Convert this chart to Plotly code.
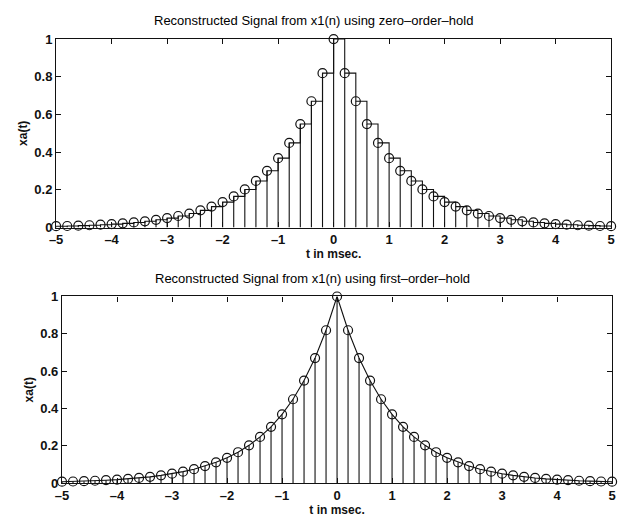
import plotly.graph_objects as go

# Sample instants (msec) and the sampled signal x1(n)
t_ms = [-5.0, -4.8, -4.6, -4.4, -4.2, -4.0, -3.8, -3.6, -3.4, -3.2,
        -3.0, -2.8, -2.6, -2.4, -2.2, -2.0, -1.8, -1.6, -1.4, -1.2,
        -1.0, -0.8, -0.6, -0.4, -0.2, 0.0, 0.2, 0.4, 0.6, 0.8,
        1.0, 1.2, 1.4, 1.6, 1.8, 2.0, 2.2, 2.4, 2.6, 2.8,
        3.0, 3.2, 3.4, 3.6, 3.8, 4.0, 4.2, 4.4, 4.6, 4.8, 5.0]
x1 = [0.007, 0.008, 0.010, 0.012, 0.015, 0.018, 0.022, 0.027, 0.033, 0.041,
      0.050, 0.061, 0.074, 0.091, 0.111, 0.135, 0.165, 0.202, 0.247, 0.301,
      0.368, 0.449, 0.549, 0.670, 0.819, 1.000, 0.819, 0.670, 0.549, 0.449,
      0.368, 0.301, 0.247, 0.202, 0.165, 0.135, 0.111, 0.091, 0.074, 0.061,
      0.050, 0.041, 0.033, 0.027, 0.022, 0.018, 0.015, 0.012, 0.010, 0.008, 0.007]

x_ticks = [-5, -4, -3, -2, -1, 0, 1, 2, 3, 4, 5]
y_ticks = [0, 0.2, 0.4, 0.6, 0.8, 1]
y_tick_text = ["0", "0.2", "0.4", "0.6", "0.8", "1"]

titles = ["Reconstructed Signal from x1(n) using zero\u2013order\u2013hold",
          "Reconstructed Signal from x1(n) using first\u2013order\u2013hold"]

W, H = 621, 525
INK = "#111111"
FONT = "Liberation Sans, Arial, sans-serif"

# stem segments: vertical line from 0 up to each sample
stem_x, stem_y = [], []
for tv, xv in zip(t_ms, x1):
    stem_x += [tv, tv, None]
    stem_y += [0, xv, None]

fig = go.Figure()

# panel placement in pixels: (left, right, top, bottom, title centre x)
panels = [(50, 615, 33, 227, 312), (56, 616, 298, 490, 311)]
shapes = ["hv", "linear"]

for i, ((l, r, tp, bt, tcx), shp) in enumerate(zip(panels, shapes)):
    xa = "x" if i == 0 else "x2"
    ya = "y" if i == 0 else "y2"
    # reconstruction curve
    fig.add_trace(go.Scatter(x=t_ms, y=x1, mode="lines", line=dict(color=INK, width=1.1, shape=shp),
                             xaxis=xa, yaxis=ya, showlegend=False, hoverinfo="skip"))
    # stems
    fig.add_trace(go.Scatter(x=stem_x, y=stem_y, mode="lines", line=dict(color=INK, width=1.1),
                             xaxis=xa, yaxis=ya, showlegend=False, hoverinfo="skip"))
    # sample markers
    fig.add_trace(go.Scatter(x=t_ms, y=x1, mode="markers",
                             marker=dict(symbol="circle-open", size=9, color=INK, line=dict(width=1.2)),
                             xaxis=xa, yaxis=ya, showlegend=False, cliponaxis=False))

    axx = dict(domain=[l / W, r / W], range=[-5, 5], tickvals=x_ticks,
               ticktext=[str(v).replace("-", "\u2013") for v in x_ticks],
               ticks="inside", ticklen=5, tickwidth=1, tickcolor=INK,
               showline=True, linecolor=INK, linewidth=1.2, mirror="ticks",
               showgrid=False, zeroline=False,
               tickfont=dict(family=FONT, size=13, color=INK, weight="bold"),
               title=dict(text="t in msec.", standoff=1,
                          font=dict(family=FONT, size=12, color=INK, weight="bold")),
               anchor=ya)
    axy = dict(domain=[1 - bt / H, 1 - tp / H], range=[0, 1], tickvals=y_ticks, ticktext=y_tick_text,
               ticks="inside", ticklen=5, tickwidth=1, tickcolor=INK,
               showline=True, linecolor=INK, linewidth=1.2, mirror="ticks",
               showgrid=False, zeroline=False,
               tickfont=dict(family=FONT, size=13, color=INK, weight="bold"),
               title=dict(text="xa(t)", standoff=4,
                          font=dict(family=FONT, size=12, color=INK, weight="bold")),
               anchor=xa)
    fig.update_layout({("xaxis" if i == 0 else "xaxis2"): axx,
                       ("yaxis" if i == 0 else "yaxis2"): axy})
    fig.add_annotation(text=titles[i], xref="paper", yref="paper",
                       x=tcx / W, y=1 - (tp - 19) / H, xanchor="center", yanchor="middle",
                       showarrow=False, font=dict(family=FONT, size=13, color="#000000"))

fig.update_layout(width=W, height=H, margin=dict(l=0, r=0, t=0, b=0),
                  paper_bgcolor="white", plot_bgcolor="white")

fig.write_html("out.html")
